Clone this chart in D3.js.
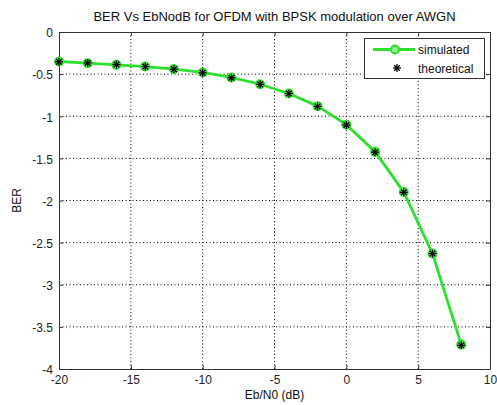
<!DOCTYPE html>
<html><head><meta charset="utf-8">
<script src="https://cdn.jsdelivr.net/npm/d3@7"></script>
<style>body{margin:0;background:#fff;}svg{display:block;}</style>
</head><body>
<script>
const ebno = [-20,-18,-16,-14,-12,-10,-8,-6,-4,-2,0,2,4,6,8];
const simulated = [-0.35,-0.37,-0.39,-0.41,-0.44,-0.48,-0.54,-0.62,-0.73,-0.88,-1.10,-1.42,-1.90,-2.63,-3.71];
const theoretical = [-0.353,-0.367,-0.386,-0.410,-0.442,-0.485,-0.543,-0.621,-0.730,-0.883,-1.104,-1.426,-1.903,-2.630,-3.719];
const xTicks = [-20,-15,-10,-5,0,5,10];
const yTicks = [0,-0.5,-1,-1.5,-2,-2.5,-3,-3.5,-4];

const W=497,H=405;
const m={l:59,r:7,t:32,b:36};
const svg=d3.select("body").append("svg").attr("width",W).attr("height",H);
const x=d3.scaleLinear().domain([-20,10]).range([m.l,W-m.r]);
const y=d3.scaleLinear().domain([-4,0]).range([H-m.b,m.t]);
const font="Liberation Sans, Arial, sans-serif";

// grid
const g=svg.append("g");
g.selectAll(".gx").data(xTicks.slice(1,-1)).join("line")
 .attr("x1",d=>x(d)).attr("x2",d=>x(d)).attr("y1",y(0)).attr("y2",y(-4))
 .attr("stroke","#000").attr("stroke-width",1).attr("stroke-dasharray","1,2.5");
g.selectAll(".gy").data(yTicks.slice(1,-1)).join("line")
 .attr("y1",d=>y(d)).attr("y2",d=>y(d)).attr("x1",x(-20)).attr("x2",x(10))
 .attr("stroke","#000").attr("stroke-width",1).attr("stroke-dasharray","1,2.5");

// axes
const ax=svg.append("g").attr("transform",`translate(0,${y(-4)})`)
 .call(d3.axisBottom(x).tickValues(xTicks).tickSizeInner(-4).tickSizeOuter(0).tickPadding(6).tickFormat(d=>String(d)));
const ay=svg.append("g").attr("transform",`translate(${x(-20)},0)`)
 .call(d3.axisLeft(y).tickValues(yTicks).tickSizeInner(-4).tickSizeOuter(0).tickPadding(6).tickFormat(d=>String(d)));
const axT=svg.append("g").attr("transform",`translate(0,${y(0)})`)
 .call(d3.axisTop(x).tickValues(xTicks).tickSizeInner(-4).tickSizeOuter(0).tickFormat(""));
const ayR=svg.append("g").attr("transform",`translate(${x(10)},0)`)
 .call(d3.axisRight(y).tickValues(yTicks).tickSizeInner(-4).tickSizeOuter(0).tickFormat(""));
[ax,ay,axT,ayR].forEach(a=>{
  a.selectAll("path").attr("stroke","#333");
  a.selectAll("line").attr("stroke","#333");
  a.selectAll("text").attr("font-family",font).attr("font-size",12).attr("fill","#222");
});
ay.selectAll("text").attr("dy","0.4em");

// line
const line=d3.line().x((d,i)=>x(ebno[i])).y(d=>y(d));
svg.append("path").datum(simulated).attr("d",line).attr("fill","none")
 .attr("stroke","#2ee02e").attr("stroke-width",2.8).attr("stroke-linejoin","round");
svg.selectAll(".sc").data(simulated).join("circle")
 .attr("cx",(d,i)=>x(ebno[i])).attr("cy",d=>y(d)).attr("r",4)
 .attr("fill","#8ef08e").attr("stroke","#2ee02e").attr("stroke-width",2);

function drawStar(sel,cx,cy){
  const s=4;
  const gg=sel.append("g").attr("transform",`translate(${cx},${cy})`).attr("stroke","#000").attr("stroke-width",1.3);
  gg.append("line").attr("x1",-s).attr("x2",s).attr("y1",0).attr("y2",0);
  gg.append("line").attr("x1",0).attr("x2",0).attr("y1",-s).attr("y2",s);
  const k=s*0.7;
  gg.append("line").attr("x1",-k).attr("x2",k).attr("y1",-k).attr("y2",k);
  gg.append("line").attr("x1",-k).attr("x2",k).attr("y1",k).attr("y2",-k);
}
theoretical.forEach((v,i)=>drawStar(svg,x(ebno[i]),y(v)));

// title & labels
svg.append("text").attr("x",(x(-20)+x(10))/2).attr("y",21).attr("text-anchor","middle")
 .attr("font-family",font).attr("font-size",13).attr("fill","#111")
 .text("BER Vs EbNodB for OFDM with BPSK modulation over AWGN");
svg.append("text").attr("x",(x(-20)+x(10))/2).attr("y",399).attr("text-anchor","middle")
 .attr("font-family",font).attr("font-size",12).attr("fill","#111").text("Eb/N0 (dB)");
svg.append("text").attr("transform",`translate(21,${(y(0)+y(-4))/2}) rotate(-90)`).attr("text-anchor","middle")
 .attr("font-family",font).attr("font-size",12).attr("fill","#111").text("BER");

// legend
const lg=svg.append("g");
lg.append("rect").attr("x",364.5).attr("y",38.5).attr("width",120).attr("height",40)
 .attr("fill","#fff").attr("stroke","#333").attr("stroke-width",1);
lg.append("line").attr("x1",373).attr("x2",415).attr("y1",49.5).attr("y2",49.5)
 .attr("stroke","#2ee02e").attr("stroke-width",2.8);
lg.append("circle").attr("cx",395).attr("cy",49.5).attr("r",4)
 .attr("fill","#8ef08e").attr("stroke","#2ee02e").attr("stroke-width",2);
drawStar(lg,397,68);
lg.append("text").attr("x",418).attr("y",54).attr("font-family",font).attr("font-size",12).attr("fill","#111").text("simulated");
lg.append("text").attr("x",418).attr("y",73).attr("font-family",font).attr("font-size",12).attr("fill","#111").text("theoretical");
</script>
</body></html>
